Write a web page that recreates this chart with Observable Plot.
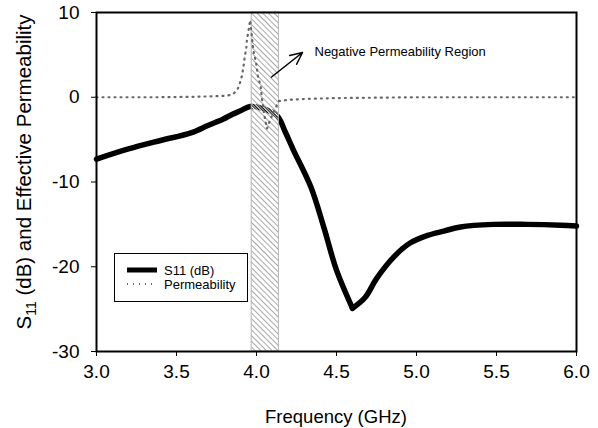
<!DOCTYPE html>
<html><head><meta charset="utf-8">
<script src="https://cdn.jsdelivr.net/npm/d3@7"></script>
<script src="https://cdn.jsdelivr.net/npm/@observablehq/plot@0.6"></script>
<style>body{margin:0;background:#fff}</style>
</head><body><div id="chart"></div>
<script>
// S11 (dB) curve
const freqS11 = [3.0,3.2,3.4,3.59,3.7,3.79,3.85,3.9,3.96,4.05,4.13,4.18,4.23,4.34,4.42,4.5,4.6,4.68,4.75,4.86,4.96,5.07,5.17,5.275,5.48,5.69,5.9,6.0];
const s11 = [-7.3,-6.1,-5.1,-4.2,-3.3,-2.6,-2.0,-1.6,-1.1,-1.4,-2.2,-4.1,-6.2,-10.6,-15.3,-20.4,-24.9,-23.6,-21.4,-18.8,-17.2,-16.3,-15.8,-15.3,-15.0,-15.0,-15.1,-15.2];
// Effective permeability
const freqMu = [3.0,3.2,3.4,3.6,3.7,3.786,3.838,3.858,3.88,3.895,3.91,3.92,3.926,3.936,3.94,3.95,3.96,3.98,4.0,4.01,4.025,4.035,4.045,4.055,4.065,4.1,4.14,4.2,4.3,4.5,5.0,5.5,6.0];
const mu = [0,0,0,0.05,0.1,0.15,0.26,0.46,0.85,1.6,2.6,3.8,4.7,5.75,6.75,7.85,9.1,5.6,3.8,2.3,1.45,-0.3,-1.7,-2.7,-3.7,-2.0,-0.45,-0.3,-0.2,-0.1,0,0,0];
// Negative permeability region
const bandStart = [3.97];
const bandEnd = [4.14];
// Axis ticks
const xTicks = [3.0,3.5,4.0,4.5,5.0,5.5,6.0];
const yTicks = [-30,-20,-10,0,10];
// Annotation
const arrowFrom = [4.094, 2.39];
const arrowTo = [4.2875, 5.28];
const annotLabel = ["Negative Permeability Region"];
const annotPos = [4.3625, 5.34];
const seriesNames = ["S11 (dB)", "Permeability"];

// split S11 at its minimum so the resonance dip keeps its sharp corner
const iMin = s11.indexOf(Math.min(...s11));
const s11Data = [];
freqS11.forEach((f,i)=>{
  if (i <= iMin) s11Data.push({f, v:s11[i], seg:"a"});
  if (i >= iMin) s11Data.push({f, v:s11[i], seg:"b"});
});
const muData = freqMu.map((f,i)=>({f, v:mu[i]}));
const bandData = bandStart.map((s,i)=>({x1:s, x2:bandEnd[i], y1:yTicks[0], y2:yTicks[yTicks.length-1]}));
const arrowData = [{x1:arrowFrom[0], y1:arrowFrom[1], x2:arrowTo[0], y2:arrowTo[1]}];
const annotData = annotLabel.map(t=>({x:annotPos[0], y:annotPos[1], t}));

const FONT = "'Liberation Sans', Arial, Helvetica, sans-serif";
const DOT = {stroke:"#666", strokeWidth:2.2, strokeDasharray:"1,5"};

const chart = Plot.plot({
  width:598, height:428,
  marginLeft:96, marginRight:22, marginTop:12, marginBottom:77,
  style:{fontFamily:FONT, fontSize:"19px", background:"white", color:"black"},
  x:{domain:[3,6], ticks:xTicks, tickFormat:d=>d.toFixed(1), tickSize:5, tickPadding:8, label:null},
  y:{domain:[-30,10], ticks:yTicks, tickFormat:d=>String(d), tickSize:5, tickPadding:12, label:null},
  marks:[
    Plot.line(s11Data, {x:"f", y:"v", z:"seg", stroke:"black", strokeWidth:5.5, curve:"catmull-rom", strokeLinejoin:"round"}),
    Plot.rect(bandData, {x1:"x1", x2:"x2", y1:"y1", y2:"y2", fill:"url(#hatch)", stroke:"#b4b4b4", strokeWidth:1}),
    Plot.line(muData, {x:"f", y:"v", ...DOT}),
    Plot.arrow(arrowData, {x1:"x1", y1:"y1", x2:"x2", y2:"y2", stroke:"black", strokeWidth:1.5, headLength:14, headAngle:50}),
    Plot.text(annotData, {x:"x", y:"y", text:"t", textAnchor:"start", fontSize:13, fill:"black"}),
    Plot.frame({stroke:"black", strokeWidth:2})
  ]
});

const svg = d3.select(chart);
const pat = svg.insert("defs", ":first-child").append("pattern")
  .attr("id","hatch").attr("patternUnits","userSpaceOnUse")
  .attr("width",4).attr("height",4).attr("patternTransform","rotate(-45)");
pat.append("rect").attr("x",0).attr("y",0).attr("width",1).attr("height",4).attr("fill","#a8a8a8");
pat.append("rect").attr("x",2).attr("y",0).attr("width",1.2).attr("height",4).attr("fill","white");

// Y axis title with subscript
const yt = svg.append("text").attr("transform","translate(31,172) rotate(-90)")
  .attr("text-anchor","middle").attr("font-size",20.5).attr("font-family",FONT).attr("fill","black");
yt.append("tspan").text("S");
yt.append("tspan").attr("font-size",14).attr("dy",5).text("11");
yt.append("tspan").attr("dy",-5).text(" (dB) and Effective Permeability");

// X axis title
svg.append("text").attr("x",336).attr("y",423).attr("text-anchor","middle")
  .attr("font-size",18.5).attr("font-family",FONT).attr("fill","black").text("Frequency (GHz)");

// Legend
const lg = svg.append("g").attr("font-family",FONT).attr("font-size",13).attr("text-anchor","start");
lg.append("rect").attr("x",114.5).attr("y",253.5).attr("width",133).attr("height",48)
  .attr("fill","white").attr("stroke","black").attr("stroke-width",1);
lg.append("line").attr("x1",127).attr("x2",157).attr("y1",270).attr("y2",270)
  .attr("stroke","black").attr("stroke-width",5);
lg.append("text").attr("x",164).attr("y",270).attr("dy","0.35em").attr("fill","black").text(seriesNames[0]);
lg.append("line").attr("x1",127).attr("x2",157).attr("y1",284).attr("y2",284)
  .attr("stroke",DOT.stroke).attr("stroke-width",DOT.strokeWidth).attr("stroke-dasharray",DOT.strokeDasharray);
lg.append("text").attr("x",164).attr("y",284).attr("dy","0.35em").attr("fill","black").text(seriesNames[1]);

document.getElementById("chart").appendChild(chart);
</script>
</body></html>
